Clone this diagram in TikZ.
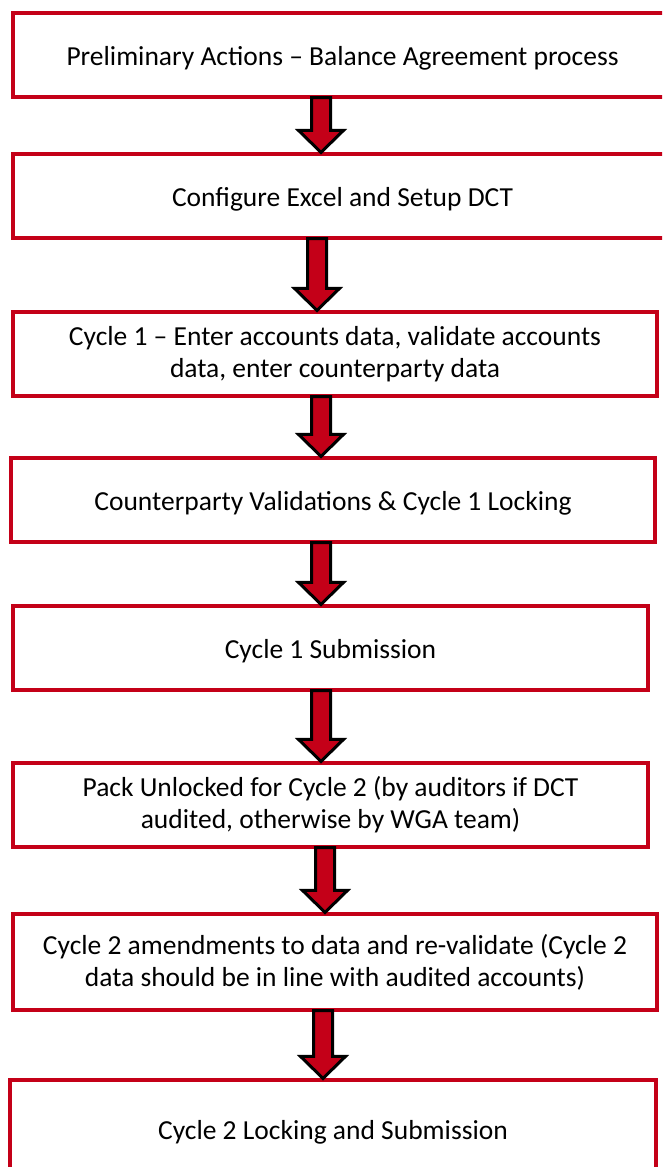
\documentclass[tikz,border=0pt]{standalone}
\usepackage{fontspec}
\setmainfont{Carlito}
\usetikzlibrary{calc}
\definecolor{boxred}{RGB}{196,0,24}
\tikzset{
  box/.style={draw=boxred, line width=3.2pt, rectangle, align=center, inner sep=0pt,
    font=\fontsize{27.5}{32}\selectfont, text=black,
    execute at begin node={\rule{0pt}{26pt}}},
  lowbox/.style={box, execute at begin node={\rule{0pt}{33pt}}},
  bigarrow/.style={draw=black, fill=boxred, line width=3pt, line join=miter}
}
\newcommand\flowarrow[3]{%
  \coordinate (s) at (#1.south -| #3,0);
  \coordinate (t) at (#2.north -| #3,0);
  \draw[bigarrow] ($(s)+(-9.5,-1)$) -- ($(t)+(-9.5,-22)$) -- ($(t)+(-22.5,-22)$)
    -- (t) -- ($(t)+(22.5,-22)$) -- ($(t)+(9.5,-22)$) -- ($(s)+(9.5,-1)$) -- cycle;
}
\begin{document}
\begin{tikzpicture}[x=1pt,y=-1pt]
\useasboundingbox (0,0) rectangle (662,1167);
\clip (0,0) rectangle (662,1167);
\node[box, minimum width=659pt, minimum height=84pt] (b1) at (342.5,55) {Preliminary Actions – Balance Agreement process};
\node[box, minimum width=659pt, minimum height=84pt] (b2) at (342.5,196) {Configure Excel and Setup DCT};
\node[lowbox, minimum width=644pt, minimum height=84pt] (b3) at (335,354) {Cycle 1 – Enter accounts data, validate accounts\\data, enter counterparty data};
\node[box, minimum width=644pt, minimum height=84pt] (b4) at (333,500) {Counterparty Validations \& Cycle 1 Locking};
\node[box, minimum width=635pt, minimum height=84pt] (b5) at (330.5,648) {Cycle 1 Submission};
\node[lowbox, minimum width=635pt, minimum height=84pt] (b6) at (330.5,805) {Pack Unlocked for Cycle 2 (by auditors if DCT\\audited, otherwise by WGA team)};
\node[box, minimum width=644pt, minimum height=96pt] (b7) at (335,962) {Cycle 2 amendments to data and re-validate (Cycle 2\\data should be in line with audited accounts)};
\node[box, minimum width=646pt, minimum height=98pt] (b8) at (333,1129) {Cycle 2 Locking and Submission};
\flowarrow{b1}{b2}{321}
\flowarrow{b2}{b3}{317}
\flowarrow{b3}{b4}{321}
\flowarrow{b4}{b5}{321}
\flowarrow{b5}{b6}{321}
\flowarrow{b6}{b7}{325}
\flowarrow{b7}{b8}{323}
\end{tikzpicture}
\end{document}
